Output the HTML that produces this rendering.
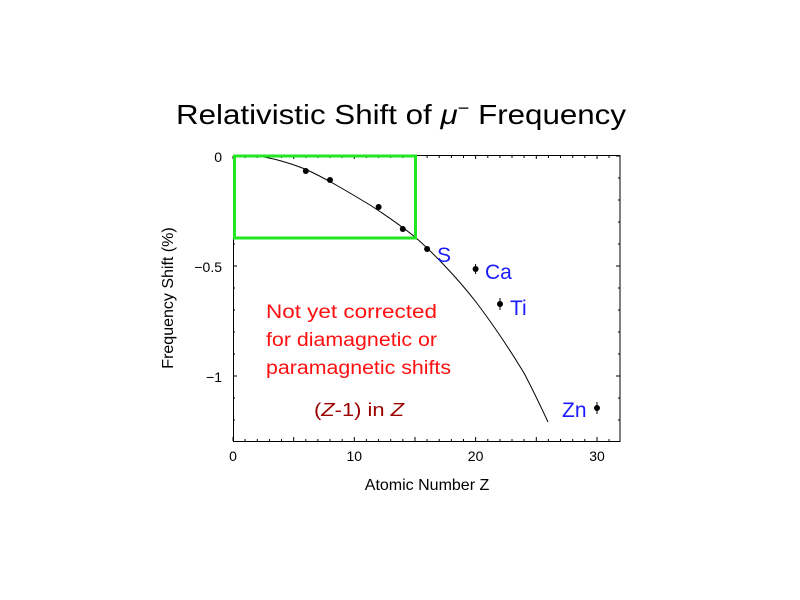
<!DOCTYPE html>
<html><head><meta charset="utf-8"><style>body{margin:0;background:#fff}svg{display:block}</style></head><body>
<svg width="800" height="600" xmlns="http://www.w3.org/2000/svg">
<text x="176" y="124" textLength="450" lengthAdjust="spacingAndGlyphs" font-family="Liberation Sans, sans-serif" font-size="28" fill="#000">Relativistic Shift of <tspan font-style="italic">μ</tspan><tspan dy="-10" font-size="18">−</tspan><tspan dy="10"> Frequency</tspan></text>
<rect x="233.5" y="155.5" width="386.5" height="286" fill="none" stroke="#000" stroke-width="1"/>
<g stroke="#000" stroke-width="1" fill="none">
<path d="M233 441v-4M245.1 441v-2M257.3 441v-2M269.4 441v-2M281.5 441v-2M293.7 441v-4M305.8 441v-2M317.9 441v-2M330 441v-2M342.2 441v-2M354.3 441v-4M366.4 441v-2M378.6 441v-2M390.7 441v-2M402.8 441v-2M415 441v-4M427.1 441v-2M439.2 441v-2M451.4 441v-2M463.5 441v-2M475.6 441v-4M487.8 441v-2M499.9 441v-2M512 441v-2M524.1 441v-2M536.3 441v-4M548.4 441v-2M560.5 441v-2M572.7 441v-2M584.8 441v-2M597 441v-4M609 441v-2"/>
<path d="M233 156v3M245.1 156v2M257.3 156v2M269.4 156v2M281.5 156v2M293.7 156v3M305.8 156v2M317.9 156v2M330 156v2M342.2 156v2M354.3 156v3M366.4 156v2M378.6 156v2M390.7 156v2M402.8 156v2M415 156v3M427.1 156v2M439.2 156v2M451.4 156v2M463.5 156v2M475.6 156v3M487.8 156v2M499.9 156v2M512 156v2M524.1 156v2M536.3 156v3M548.4 156v2M560.5 156v2M572.7 156v2M584.8 156v2M597 156v3M609 156v2"/>
<path d="M233 156h4M233 178h2M233 200h2M233 222h2M233 244h2M233 266h4M233 288h2M233 310h2M233 332h2M233 354h2M233 376h4M233 398h2M233 420h2"/>
<path d="M620 156h-4M620 178h-2M620 200h-2M620 222h-2M620 244h-2M620 266h-4M620 288h-2M620 310h-2M620 332h-2M620 354h-2M620 376h-4M620 398h-2M620 420h-2"/>
<path d="M255 156 C270 157 290 163 305 169 C325 178 345 190 370 205 C390 218 405 229 415 237 C430 250 455 275 476 302 C495 327 510 350 524 373 C533 390 541 407 548 422"/>
<path d="M475.6 264v10M500 298v12M597 402v12"/>
</g>
<g fill="#000">
<circle cx="305.8" cy="171" r="3"/><circle cx="330" cy="180" r="3"/><circle cx="378.6" cy="207" r="3"/><circle cx="402.8" cy="229" r="3"/><circle cx="427.1" cy="249" r="3"/><circle cx="475.6" cy="269" r="3"/><circle cx="500" cy="304" r="3"/><circle cx="597" cy="408" r="3"/>
</g>
<rect x="234.5" y="156" width="181" height="82" fill="none" stroke="#22e622" stroke-width="3"/>
<g font-family="Liberation Sans, sans-serif" font-size="14" fill="#000">
<text x="233" y="461" text-anchor="middle">0</text><text x="354.3" y="461" text-anchor="middle">10</text><text x="475.6" y="461" text-anchor="middle">20</text><text x="597" y="461" text-anchor="middle">30</text>
<text x="222" y="162" text-anchor="end">0</text><text x="222" y="272" text-anchor="end">−0.5</text><text x="222" y="382" text-anchor="end">−1</text>
<text x="427" y="490" text-anchor="middle" font-size="16">Atomic Number Z</text>
<text transform="translate(173,298) rotate(-90)" text-anchor="middle" font-size="16">Frequency Shift (%)</text>
</g>
<g font-family="Liberation Sans, sans-serif" font-size="21" fill="#1a1aff">
<text x="437" y="262">S</text><text x="485" y="279">Ca</text><text x="510" y="315">Ti</text><text x="562" y="417">Zn</text>
</g>
<g font-family="Liberation Sans, sans-serif" font-size="19" fill="#ff1010">
<text x="266" y="318" textLength="171" lengthAdjust="spacingAndGlyphs">Not yet corrected</text>
<text x="266" y="346" textLength="171" lengthAdjust="spacingAndGlyphs">for diamagnetic or</text>
<text x="266" y="374" textLength="185" lengthAdjust="spacingAndGlyphs">paramagnetic shifts</text>
</g>
<text x="314" y="416" textLength="90" lengthAdjust="spacingAndGlyphs" font-family="Liberation Sans, sans-serif" font-size="18" fill="#990000">(<tspan font-style="italic">Z</tspan>-1) in <tspan font-style="italic">Z</tspan></text>
</svg>
</body></html>
